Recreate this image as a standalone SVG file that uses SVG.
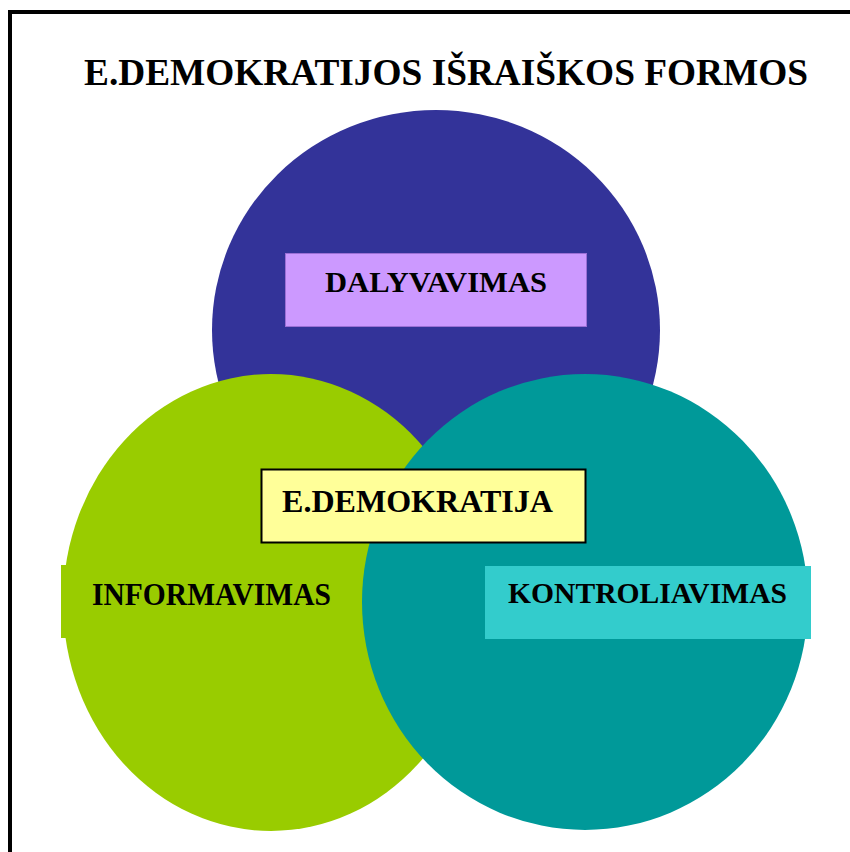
<svg xmlns="http://www.w3.org/2000/svg" width="850" height="852" viewBox="0 0 850 852">
  <style>
    .lbl { font-family: "Liberation Serif", "Times New Roman", serif; font-weight: bold; fill: #000; text-anchor: middle; }
    .title { font-family: "Liberation Serif", "Times New Roman", serif; font-weight: bold; fill: #000; text-anchor: middle; font-size: 38px; }
  </style>
  <rect x="0" y="0" width="850" height="852" fill="#ffffff"/>
  <rect id="frame" x="10" y="12" width="900" height="900" fill="none" stroke="#000" stroke-width="4"/>
  <text id="title" class="title" x="446" y="85" textLength="724" lengthAdjust="spacingAndGlyphs">E.DEMOKRATIJOS IŠRAIŠKOS FORMOS</text>

  <g id="dalyvavimas">
    <ellipse cx="436" cy="330" rx="224" ry="220" fill="#333399"/>
    <rect x="285.5" y="253.5" width="301" height="73" fill="#CC99FF" stroke="#9B6FD6" stroke-width="1"/>
    <text class="lbl" x="436" y="292" font-size="30" textLength="222" lengthAdjust="spacingAndGlyphs">DALYVAVIMAS</text>
  </g>

  <g id="informavimas">
    <ellipse cx="271" cy="602.5" rx="208" ry="228.5" fill="#99CC00"/>
    <rect x="61" y="565" width="326" height="73" fill="#99CC00"/>
    <text class="lbl" x="211.5" y="605" font-size="31" textLength="239" lengthAdjust="spacingAndGlyphs">INFORMAVIMAS</text>
  </g>

  <g id="kontroliavimas">
    <ellipse cx="585" cy="602" rx="223" ry="228" fill="#009999"/>
    <rect x="485" y="566" width="326" height="73" fill="#33CCCC"/>
    <text class="lbl" x="647.5" y="603" font-size="30" textLength="279" lengthAdjust="spacingAndGlyphs">KONTROLIAVIMAS</text>
  </g>

  <g id="edemokratija">
    <rect x="261.5" y="469.5" width="324" height="73" fill="#FFFF99" stroke="#000" stroke-width="2"/>
    <text class="lbl" x="417.5" y="512" font-size="32" textLength="271" lengthAdjust="spacingAndGlyphs">E.DEMOKRATIJA</text>
  </g>
</svg>
